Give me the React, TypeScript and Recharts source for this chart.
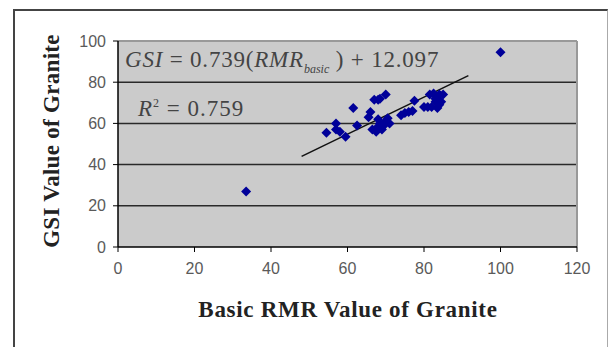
import React from 'react';
import { ScatterChart, Scatter, XAxis, YAxis, CartesianGrid, ReferenceLine } from 'recharts';

const rmrValues = [33.5, 100, 54.5, 57, 57, 58, 59.5, 61.5, 62.5, 66, 65.5, 67, 68, 68.5, 70, 66.5, 67.5, 68, 68.5, 69, 69.5, 70, 70.5, 71, 68, 74, 75, 76, 77, 77.5, 80, 81, 82, 83.5, 83, 84.5, 81.5, 82.5, 84, 85, 83, 84];
const gsiValues = [27, 94.5, 55.5, 60, 57, 56, 53.5, 67.5, 59, 65.5, 63, 71.5, 71.5, 72, 74, 57, 56, 58.5, 60, 57, 59, 61, 62.5, 60, 62, 64, 65, 65.5, 66, 71, 68, 68, 68, 67.5, 70.5, 70.5, 74, 74.5, 74, 74, 72, 69];
const xTicks = [0, 20, 40, 60, 80, 100, 120];
const yTicks = [0, 20, 40, 60, 80, 100];
const gridValues = [20, 40, 60, 80];
const trendStart = { x: 48, y: 44 };
const trendEnd = { x: 91.6, y: 83.2 };

const data = rmrValues.map((x, i) => ({ x, y: gsiValues[i] }));

const Diamond = (props: any) => {
  const { cx, cy } = props;
  const r = 5;
  return <path d={`M${cx},${cy - r} L${cx + r},${cy} L${cx},${cy + r} L${cx - r},${cy} Z`} fill="#000099" />;
};

const serif = '"Liberation Serif", "Times New Roman", serif';
const sans = '"Liberation Sans", Arial, sans-serif';

export default function App() {
  return (
    <div style={{ position: 'absolute', left: 0, top: 0, width: 608, height: 347, background: '#fff', overflow: 'hidden' }}>
      <div style={{ position: 'absolute', left: 13, top: 9, width: 592, height: 400, borderLeft: '2px solid #444', borderTop: '2px solid #444', borderRight: '1px solid #aaa' }} />
      <div style={{ position: 'absolute', left: 0, top: 0 }}>
        <ScatterChart width={608} height={347} margin={{ top: 41, right: 31, bottom: 70, left: 58 }}>
          <CartesianGrid horizontal vertical={false} fill="#cbcbcb" stroke="#2a2a2a" strokeWidth={1.5} horizontalValues={gridValues} />
          <XAxis type="number" dataKey="x" domain={[0, 120]} ticks={xTicks} height={30}
            axisLine={{ stroke: '#000', strokeWidth: 1.5 }} tickLine={{ stroke: '#000' }} tickSize={5} tickMargin={11}
            tick={{ fill: '#5a5a5a', fontSize: 16, fontFamily: sans }} interval={0} />
          <YAxis type="number" dataKey="y" domain={[0, 100]} ticks={yTicks} width={60}
            axisLine={{ stroke: '#000', strokeWidth: 1.5 }} tickLine={{ stroke: '#000' }} tickSize={5} tickMargin={7}
            tick={{ fill: '#5a5a5a', fontSize: 16, fontFamily: sans }} interval={0} />
          <ReferenceLine y={100} stroke="#999" strokeWidth={2} />
          <ReferenceLine x={120} stroke="#999" strokeWidth={2} />
          <ReferenceLine segment={[trendStart, trendEnd]} stroke="#111" strokeWidth={1.5} />
          <Scatter data={data} shape={<Diamond />} isAnimationActive={false} />
        </ScatterChart>
      </div>
      <div style={{ position: 'absolute', left: 125, top: 46, fontFamily: serif, fontSize: 23, letterSpacing: 0.8, color: '#444', whiteSpace: 'nowrap', lineHeight: '28px' }}>
        <i>GSI</i> = 0.739(<i>RMR</i><sub style={{ fontSize: 12, fontStyle: 'italic', letterSpacing: 0 }}>basic</sub> ) + 12.097
      </div>
      <div style={{ position: 'absolute', left: 138, top: 89, fontFamily: serif, fontSize: 23, letterSpacing: 1, color: '#444', whiteSpace: 'nowrap', lineHeight: '28px' }}>
        <i>R</i><sup style={{ fontSize: 12 }}>2</sup> = 0.759
      </div>
      <div style={{ position: 'absolute', left: 348, top: 310, transform: 'translate(-50%, -50%)', fontFamily: serif, fontWeight: 'bold', fontSize: 23, letterSpacing: 0.7, color: '#222', whiteSpace: 'nowrap' }}>
        Basic RMR Value of Granite
      </div>
      <div style={{ position: 'absolute', left: 52, top: 141, transform: 'translate(-50%, -50%) rotate(-90deg)', fontFamily: serif, fontWeight: 'bold', fontSize: 23, letterSpacing: 0.3, color: '#222', whiteSpace: 'nowrap' }}>
        GSI Value of Granite
      </div>
    </div>
  );
}
